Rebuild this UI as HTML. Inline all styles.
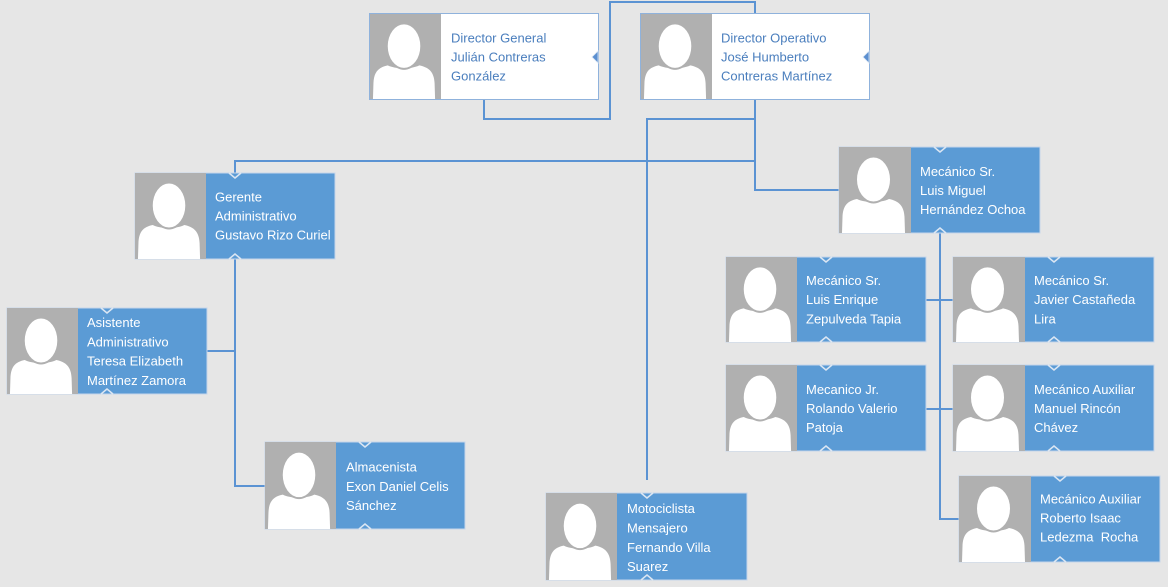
<!DOCTYPE html>
<html>
<head>
<meta charset="utf-8">
<style>
html,body{margin:0;padding:0;background:#e6e6e6;}
svg{display:block;}
text{font-family:"Liberation Sans",Arial,sans-serif;font-size:13px;}
.w{fill:#ffffff;}
.b{fill:#4a7ebd;}
</style>
</head>
<body>
<svg width="1168" height="587" viewBox="0 0 1168 587" xmlns="http://www.w3.org/2000/svg">
<defs>
<symbol id="sil" viewBox="0 0 72 86" preserveAspectRatio="none">
<rect x="0" y="0" width="72" height="86" fill="#b0b0b0"/>
<path d="M3,86 L3.5,70 C4,59 8,54 18,52 C26,56 42,56 50,52 C60,54 65,59 65.5,70 L66,86 Z" fill="#ffffff"/>
<ellipse cx="34.5" cy="32.5" rx="18.5" ry="24" fill="#b0b0b0"/>
<ellipse cx="34.5" cy="32.5" rx="16.5" ry="22" fill="#ffffff"/>
</symbol>
</defs>

<rect x="0" y="0" width="1168" height="587" fill="#e6e6e6"/>

<!-- connectors -->
<g fill="none" stroke="#5b93d3" stroke-width="2">
<path d="M484,100 V119 H610 V2 H755 V13"/>
<path d="M755,100 V190 H839"/>
<path d="M755,119 H647 V480"/>
<path d="M234,161 H755"/>
<path d="M235,161 V173"/>
<path d="M235,259 V486 H265"/>
<path d="M207,351 H235"/>
<path d="M940,233 V519 H959"/>
<path d="M926,300 H953"/>
<path d="M926,409 H953"/>
</g>

<!-- Director General -->
<g transform="translate(369,13)">
<rect x="0.5" y="0.5" width="229" height="86" fill="#ffffff" stroke="#8fb2dc" stroke-width="1"/>
<use href="#sil" x="1" y="1" width="71" height="85"/>
<text class="b" x="82" y="29.5">Director General</text>
<text class="b" x="82" y="48.5">Julián Contreras</text>
<text class="b" x="82" y="67.5">González</text>
<polygon points="223,44 229,38 229,50" fill="#5b8fd0" stroke="#dbe6f3" stroke-width="0.8"/>
</g>

<!-- Director Operativo -->
<g transform="translate(640,13)">
<rect x="0.5" y="0.5" width="229" height="86" fill="#ffffff" stroke="#8fb2dc" stroke-width="1"/>
<use href="#sil" x="1" y="1" width="71" height="85"/>
<text class="b" x="81" y="29.5">Director Operativo</text>
<text class="b" x="81" y="48.5">José Humberto</text>
<text class="b" x="81" y="67.5">Contreras Martínez</text>
<polygon points="223,44 229,38 229,50" fill="#5b8fd0" stroke="#dbe6f3" stroke-width="0.8"/>
</g>

<!-- Blue boxes -->
<!-- Gerente -->
<g transform="translate(135,173)">
<rect x="0" y="0" width="200" height="86" fill="#5b9bd5" stroke="#c6d6ea" stroke-width="1"/>
<use href="#sil" x="0" y="0" width="71" height="86"/>
<text class="w" x="80" y="28.5">Gerente</text>
<text class="w" x="80" y="47.5">Administrativo</text>
<text class="w" x="80" y="66.5">Gustavo Rizo Curiel</text>
<polyline points="94,0 100,5 106,0" fill="none" stroke="#dbe6f3" stroke-width="1.5"/>
<polyline points="94,86 100,81 106,86" fill="none" stroke="#dbe6f3" stroke-width="1.5"/>
</g>

<!-- Asistente -->
<g transform="translate(7,308)">
<rect x="0" y="0" width="200" height="86" fill="#5b9bd5" stroke="#c6d6ea" stroke-width="1"/>
<use href="#sil" x="0" y="0" width="71" height="86"/>
<text class="w" x="80" y="19">Asistente</text>
<text class="w" x="80" y="38.3">Administrativo</text>
<text class="w" x="80" y="57.6">Teresa Elizabeth</text>
<text class="w" x="80" y="76.9">Martínez Zamora</text>
<polyline points="94,0 100,5 106,0" fill="none" stroke="#dbe6f3" stroke-width="1.5"/>
<polyline points="94,86 100,81 106,86" fill="none" stroke="#dbe6f3" stroke-width="1.5"/>
</g>

<!-- Almacenista -->
<g transform="translate(265,442)">
<rect x="0" y="0" width="200" height="87" fill="#5b9bd5" stroke="#c6d6ea" stroke-width="1"/>
<use href="#sil" x="0" y="0" width="71" height="87"/>
<text class="w" x="81" y="29.5">Almacenista</text>
<text class="w" x="81" y="48.8">Exon Daniel Celis</text>
<text class="w" x="81" y="68.1">Sánchez</text>
<polyline points="94,0 100,5 106,0" fill="none" stroke="#dbe6f3" stroke-width="1.5"/>
<polyline points="94,87 100,82 106,87" fill="none" stroke="#dbe6f3" stroke-width="1.5"/>
</g>

<!-- Motociclista -->
<g transform="translate(546,493)">
<rect x="0" y="0" width="201" height="87" fill="#5b9bd5" stroke="#c6d6ea" stroke-width="1"/>
<use href="#sil" x="0" y="0" width="71" height="87"/>
<text class="w" x="81" y="20">Motociclista</text>
<text class="w" x="81" y="39.4">Mensajero</text>
<text class="w" x="81" y="58.8">Fernando Villa</text>
<text class="w" x="81" y="78.2">Suarez</text>
<polyline points="95,0 101,5 107,0" fill="none" stroke="#dbe6f3" stroke-width="1.5"/>
<polyline points="95,87 101,82 107,87" fill="none" stroke="#dbe6f3" stroke-width="1.5"/>
</g>

<!-- Mecanico Sr Luis Miguel -->
<g transform="translate(839,147)">
<rect x="0" y="0" width="201" height="86" fill="#5b9bd5" stroke="#c6d6ea" stroke-width="1"/>
<use href="#sil" x="0" y="0" width="72" height="86"/>
<text class="w" x="81" y="29">Mecánico Sr.</text>
<text class="w" x="81" y="48">Luis Miguel</text>
<text class="w" x="81" y="67">Hernández Ochoa</text>
<polyline points="95,0 101,5 107,0" fill="none" stroke="#dbe6f3" stroke-width="1.5"/>
<polyline points="95,86 101,81 107,86" fill="none" stroke="#dbe6f3" stroke-width="1.5"/>
</g>

<!-- Luis Enrique -->
<g transform="translate(726,257)">
<rect x="0" y="0" width="200" height="85" fill="#5b9bd5" stroke="#c6d6ea" stroke-width="1"/>
<use href="#sil" x="0" y="0" width="71" height="85"/>
<text class="w" x="80" y="28">Mecánico Sr.</text>
<text class="w" x="80" y="47">Luis Enrique</text>
<text class="w" x="80" y="66.5">Zepulveda Tapia</text>
<polyline points="94,0 100,5 106,0" fill="none" stroke="#dbe6f3" stroke-width="1.5"/>
<polyline points="94,85 100,80 106,85" fill="none" stroke="#dbe6f3" stroke-width="1.5"/>
</g>

<!-- Javier -->
<g transform="translate(953,257)">
<rect x="0" y="0" width="201" height="85" fill="#5b9bd5" stroke="#c6d6ea" stroke-width="1"/>
<use href="#sil" x="0" y="0" width="72" height="85"/>
<text class="w" x="81" y="28">Mecánico Sr.</text>
<text class="w" x="81" y="47">Javier Castañeda</text>
<text class="w" x="81" y="66.5">Lira</text>
<polyline points="95,0 101,5 107,0" fill="none" stroke="#dbe6f3" stroke-width="1.5"/>
<polyline points="95,85 101,80 107,85" fill="none" stroke="#dbe6f3" stroke-width="1.5"/>
</g>

<!-- Rolando -->
<g transform="translate(726,365)">
<rect x="0" y="0" width="200" height="86" fill="#5b9bd5" stroke="#c6d6ea" stroke-width="1"/>
<use href="#sil" x="0" y="0" width="71" height="86"/>
<text class="w" x="80" y="29">Mecanico Jr.</text>
<text class="w" x="80" y="48">Rolando Valerio</text>
<text class="w" x="80" y="67">Patoja</text>
<polyline points="94,0 100,5 106,0" fill="none" stroke="#dbe6f3" stroke-width="1.5"/>
<polyline points="94,86 100,81 106,86" fill="none" stroke="#dbe6f3" stroke-width="1.5"/>
</g>

<!-- Manuel -->
<g transform="translate(953,365)">
<rect x="0" y="0" width="201" height="86" fill="#5b9bd5" stroke="#c6d6ea" stroke-width="1"/>
<use href="#sil" x="0" y="0" width="72" height="86"/>
<text class="w" x="81" y="29">Mecánico Auxiliar</text>
<text class="w" x="81" y="48">Manuel Rincón</text>
<text class="w" x="81" y="67">Chávez</text>
<polyline points="95,0 101,5 107,0" fill="none" stroke="#dbe6f3" stroke-width="1.5"/>
<polyline points="95,86 101,81 107,86" fill="none" stroke="#dbe6f3" stroke-width="1.5"/>
</g>

<!-- Roberto -->
<g transform="translate(959,476)">
<rect x="0" y="0" width="201" height="86" fill="#5b9bd5" stroke="#c6d6ea" stroke-width="1"/>
<use href="#sil" x="0" y="0" width="72" height="86"/>
<text class="w" x="81" y="27.5">Mecánico Auxiliar</text>
<text class="w" x="81" y="46.5">Roberto Isaac</text>
<text class="w" x="81" y="65.5" xml:space="preserve">Ledezma  Rocha</text>
<polyline points="95,0 101,5 107,0" fill="none" stroke="#dbe6f3" stroke-width="1.5"/>
<polyline points="95,86 101,81 107,86" fill="none" stroke="#dbe6f3" stroke-width="1.5"/>
</g>
</svg>
</body>
</html>
